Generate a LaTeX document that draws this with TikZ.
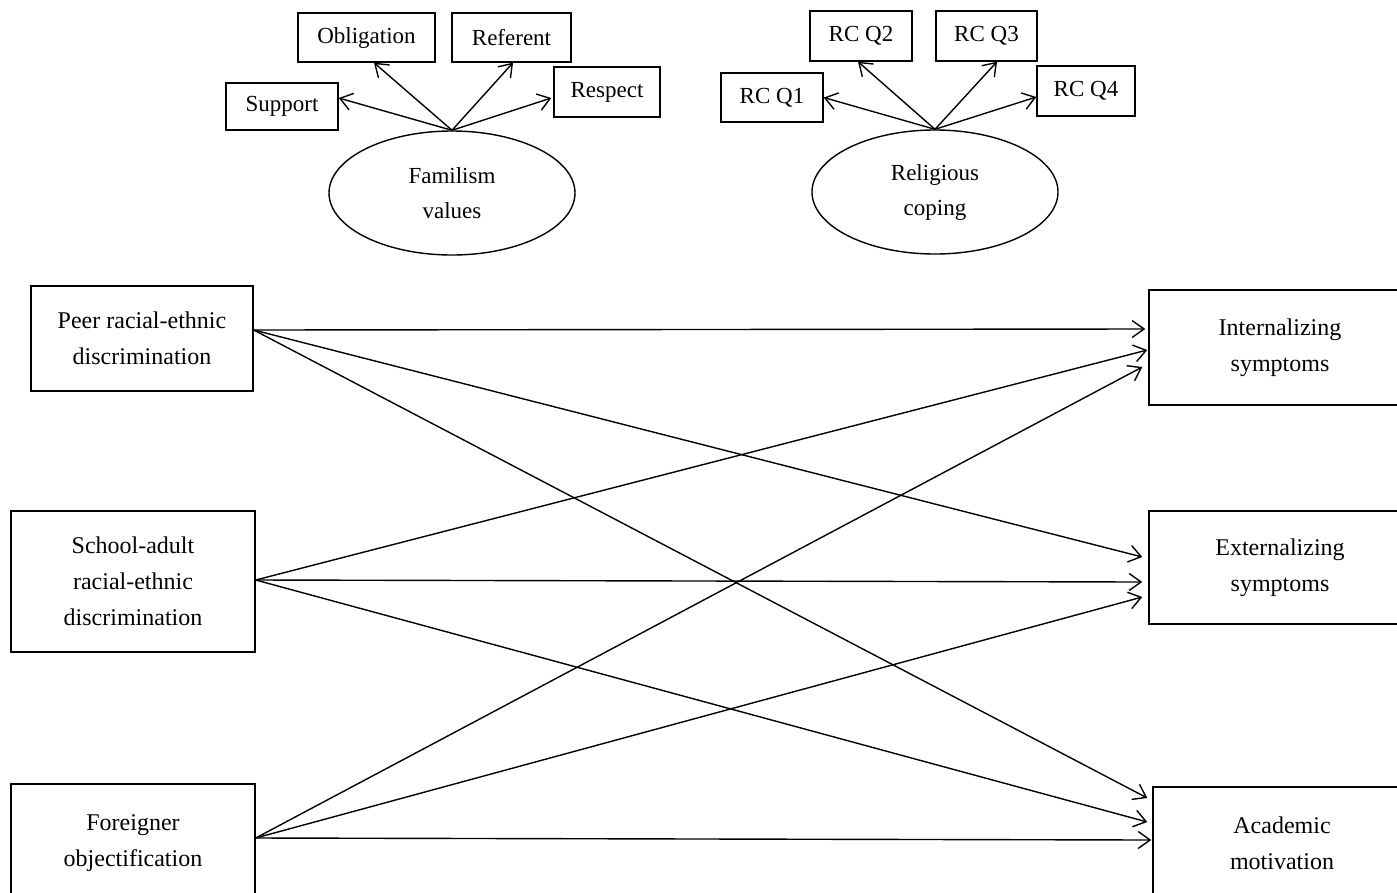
\documentclass[tikz,border=0pt]{standalone}
\usepackage{fontspec}
\setmainfont{Liberation Serif}
\usetikzlibrary{arrows.meta,shapes.geometric}
\begin{document}
\begin{tikzpicture}[x=1pt,y=-1pt,
  box/.style={draw, line width=1.4pt, inner sep=0pt, align=center, font=\fontsize{24}{36}\selectfont},
  sbox/.style={draw, line width=1.4pt, inner sep=0pt, align=center, font=\fontsize{23}{28}\selectfont},
  lat/.style={draw, ellipse, line width=1.4pt, inner sep=0pt, align=center, minimum width=246pt, minimum height=124pt, font=\fontsize{23}{35}\selectfont},
  arr/.style={line width=1.4pt, -{Straight Barb[length=12pt,width=17pt,line width=1.4pt]}}]
\useasboundingbox (0,0) rectangle (1397,892);
\clip (0,0) rectangle (1397,892);
\fill[white] (0,0) rectangle (1397,892);
% familism cluster
\node[lat] (fam) at (452,193) {Familism\\values};
\node[sbox, minimum width=112pt, minimum height=47pt] (sup) at (282,106.5) {Support};
\node[sbox, minimum width=137pt, minimum height=49pt] (obl) at (366.5,37.5) {Obligation};
\node[sbox, minimum width=119pt, minimum height=49pt] (ref) at (511.5,37.5) {Referent};
\node[sbox, minimum width=106pt, minimum height=50pt] (res) at (607,92) {Respect};
\draw[arr] (fam.north) -- ([yshift=8.5pt]sup.east);
\draw[arr] (fam.north) -- ([xshift=7.5pt]obl.south);
\draw[arr] (fam.north) -- ([xshift=1.5pt]ref.south);
\draw[arr] (fam.north) -- ([xshift=-2pt,yshift=-6pt]res.west);
% religious coping cluster
\node[lat] (rel) at (935,192) {Religious\\coping};
\node[sbox, minimum width=102pt, minimum height=49pt] (q1) at (772,97.5) {RC Q1};
\node[sbox, minimum width=102pt, minimum height=50pt] (q2) at (861,36) {RC Q2};
\node[sbox, minimum width=101pt, minimum height=50pt] (q3) at (986.5,36) {RC Q3};
\node[sbox, minimum width=98pt, minimum height=50pt] (q4) at (1086,91) {RC Q4};
\draw[arr] (rel.north) -- (q1.east);
\draw[arr] (rel.north) -- ([xshift=-3pt]q2.south);
\draw[arr] (rel.north) -- ([xshift=10.5pt]q3.south);
\draw[arr] (rel.north) -- ([yshift=-6pt]q4.west);
% predictors
\node[box, minimum width=222pt, minimum height=105pt] (peer) at (142,338.5) {Peer racial-ethnic\\discrimination};
\node[box, minimum width=244pt, minimum height=141pt] (sch) at (133,581.5) {School-adult\\racial-ethnic\\discrimination};
\node[box, minimum width=244pt, minimum height=118pt] (for) at (133,843) {Foreigner\\objectification};
% outcomes
\node[box, minimum width=262pt, minimum height=115pt] (int) at (1280,347.5) {Internalizing\\symptoms};
\node[box, minimum width=262pt, minimum height=113pt] (ext) at (1280,567.5) {Externalizing\\symptoms};
\node[box, minimum width=258pt, minimum height=113pt] (aca) at (1282,843.5) {Academic\\motivation};
% paths
\draw[arr] ([yshift=8.5pt]peer.east) -- ([xshift=-3pt,yshift=18.5pt]int.west);
\draw[arr] ([yshift=8.5pt]peer.east) -- ([xshift=-6pt,yshift=10.5pt]ext.west);
\draw[arr] ([yshift=8.5pt]peer.east) -- ([xshift=-5pt,yshift=45.5pt]aca.west);
\draw[arr] ([yshift=1.5pt]sch.east) -- ([xshift=-1pt,yshift=-2.5pt]int.west);
\draw[arr] ([yshift=1.5pt]sch.east) -- ([xshift=-6pt,yshift=-14.5pt]ext.west);
\draw[arr] ([yshift=1.5pt]sch.east) -- ([xshift=-5pt,yshift=21.5pt]aca.west);
\draw[arr] ([yshift=5pt]for.east) -- ([xshift=-6pt,yshift=-19.5pt]int.west);
\draw[arr] ([yshift=5pt]for.east) -- ([xshift=-6pt,yshift=-29.5pt]ext.west);
\draw[arr] ([yshift=5pt]for.east) -- ([xshift=-1pt,yshift=3.5pt]aca.west);
\end{tikzpicture}
\end{document}
